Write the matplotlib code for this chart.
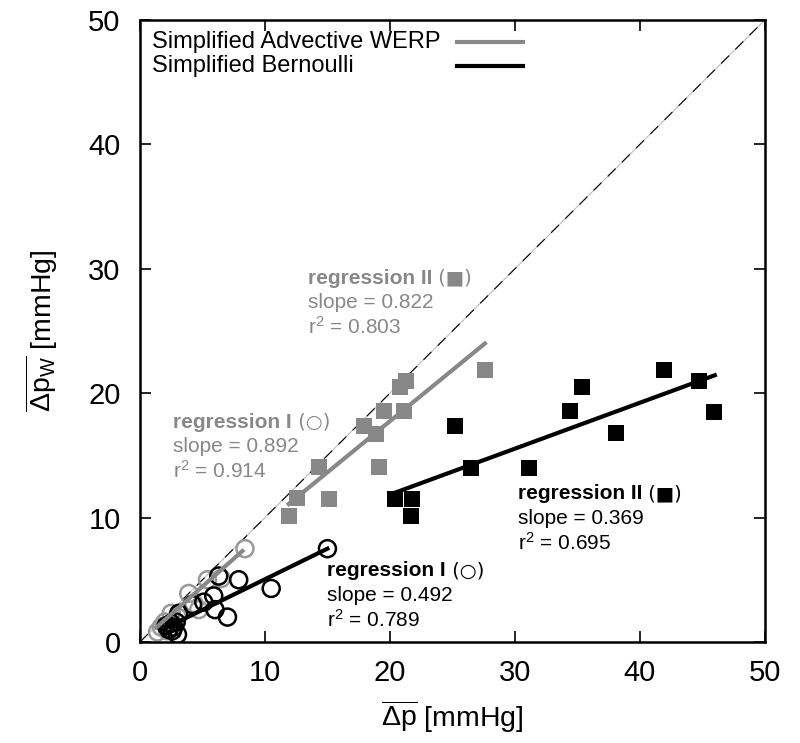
import matplotlib
matplotlib.use("Agg")
import matplotlib.pyplot as plt

# fonts: helvetica-like look
plt.rcParams['font.family'] = ['Liberation Sans', 'DejaVu Sans']
plt.rcParams['mathtext.fontset'] = 'custom'
plt.rcParams['mathtext.rm'] = 'Liberation Sans'
plt.rcParams['mathtext.it'] = 'Liberation Sans:italic'
plt.rcParams['mathtext.bf'] = 'Liberation Sans:bold'

GRAY = "#888888"

# simplified advective WERP, regression I (open circles)
werp_c_x = [8.4, 5.4, 6.5, 3.9, 4.3, 4.7, 2.5, 1.7, 2.0, 2.2, 1.4, 3.0]
werp_c_y = [7.5, 5.0, 5.1, 3.9, 3.1, 2.6, 2.3, 1.2, 1.6, 0.9, 0.8, 2.0]
# simplified advective WERP, regression II (squares)
werp_s_x = [11.9, 12.6, 15.1, 14.3, 19.1, 17.9, 18.9, 19.5, 21.1, 20.8, 21.3, 27.6]
werp_s_y = [10.1, 11.6, 11.5, 14.1, 14.1, 17.4, 16.7, 18.6, 18.6, 20.5, 21.0, 21.9]

# simplified Bernoulli, regression I (open circles)
bern_c_x = [15.0, 10.5, 7.9, 6.3, 5.9, 5.1, 4.2, 7.0, 6.0, 3.1, 2.7, 2.3, 2.5, 2.9, 2.1, 3.0, 2.6]
bern_c_y = [7.5, 4.3, 5.0, 5.3, 3.7, 3.2, 3.0, 2.0, 2.6, 2.3, 1.2, 1.0, 1.5, 1.6, 1.3, 0.6, 0.9]
# simplified Bernoulli, regression II (squares)
bern_s_x = [20.4, 21.8, 21.7, 26.5, 25.2, 31.1, 34.4, 35.4, 38.1, 41.9, 44.7, 45.9]
bern_s_y = [11.5, 11.5, 10.1, 14.0, 17.4, 14.0, 18.6, 20.5, 16.8, 21.9, 21.0, 18.5]

# regression fits: (slope, intercept, x start, x end)
werp_fit1 = (0.892, 0.0, 1.3, 8.2)
werp_fit2 = (0.822, 1.31, 11.9, 27.6)
bern_fit1 = (0.492, 0.12, 1.8, 15.0)
bern_fit2 = (0.369, 4.47, 20.4, 46.0)

legend_labels = ["Simplified Advective WERP", "Simplified Bernoulli"]

fig = plt.figure(figsize=(8, 7.43), dpi=100)
ax = fig.add_axes([0.175, 0.136, 0.781, 0.837])

# identity line (gray thin + black dashes)
ax.plot([0, 50], [0, 50], color="#bbbbbb", lw=0.8, zorder=1)
ax.plot([0, 50], [0, 50], color="black", lw=0.8, dashes=(10, 8), zorder=1)

# markers
ax.scatter(werp_c_x, werp_c_y, s=150, facecolors="none", edgecolors="#999999", linewidths=1.8, zorder=2)
ax.scatter(bern_c_x, bern_c_y, s=150, facecolors="none", edgecolors="black", linewidths=1.8, zorder=3)
ax.scatter(werp_s_x, werp_s_y, s=140, marker="s", color=GRAY, linewidths=0, zorder=2)
ax.scatter(bern_s_x, bern_s_y, s=140, marker="s", color="black", linewidths=0, zorder=3)

# regression lines
def fit_line(fit, color):
    m, b, x0, x1 = fit
    ax.plot([x0, x1], [m * x0 + b, m * x1 + b], color=color, lw=3, zorder=4)

fit_line(werp_fit2, GRAY)
fit_line(bern_fit2, "black")
fit_line(werp_fit1, GRAY)
fit_line(bern_fit1, "black")

# gnuplot style key: text left, sample line right
for i, (lab, col) in enumerate(zip(legend_labels, [GRAY, "black"])):
    yk = 0.965 - i * 0.039
    ax.text(0.019, yk, lab, transform=ax.transAxes, fontsize=17, va="center", ha="left")
    ax.plot([0.507, 0.613], [yk, yk], transform=ax.transAxes, color=col, lw=3)

# annotation blocks
def reg_text(x, y, title, sym, slope, r2, color):
    t = ax.text(x, y, title, fontsize=15, fontweight="bold", color=color, va="center")
    ax.annotate(" (" + sym + ")", xy=(1, 0), xycoords=t, va="bottom", fontsize=14,
                color=color, family="DejaVu Sans")
    ax.text(x, y - 2.0, "slope = " + slope, fontsize=15, color=color, va="center")
    ax.text(x, y - 3.95, "r$^2$ = " + r2, fontsize=15, color=color, va="center")

reg_text(13.44, 29.26, "regression II", "\u25a0", "0.822", "0.803", GRAY)
reg_text(2.64, 17.68, "regression I", "\u25cb", "0.892", "0.914", GRAY)
reg_text(30.24, 11.9, "regression II", "\u25a0", "0.369", "0.695", "black")
reg_text(14.96, 5.71, "regression I", "\u25cb", "0.492", "0.789", "black")

ax.set_xlim(0, 50)
ax.set_ylim(0, 50)
ax.set_xticks(range(0, 51, 10))
ax.set_yticks(range(0, 51, 10))
ax.tick_params(direction="in", length=8, width=1.2, top=True, right=True, labelsize=21)
ax.tick_params(axis="x", pad=12)
ax.tick_params(axis="y", pad=14)
for s in ax.spines.values():
    s.set_linewidth(1.8)

ax.set_xlabel(r"$\overline{\Delta\mathrm{p}}$ [mmHg]", fontsize=20.5, labelpad=9)
ax.set_ylabel(r"$\overline{\Delta\mathrm{p}_\mathrm{W}}$ [mmHg]", fontsize=20.5, labelpad=20)

fig.savefig("out.png", dpi=100)
